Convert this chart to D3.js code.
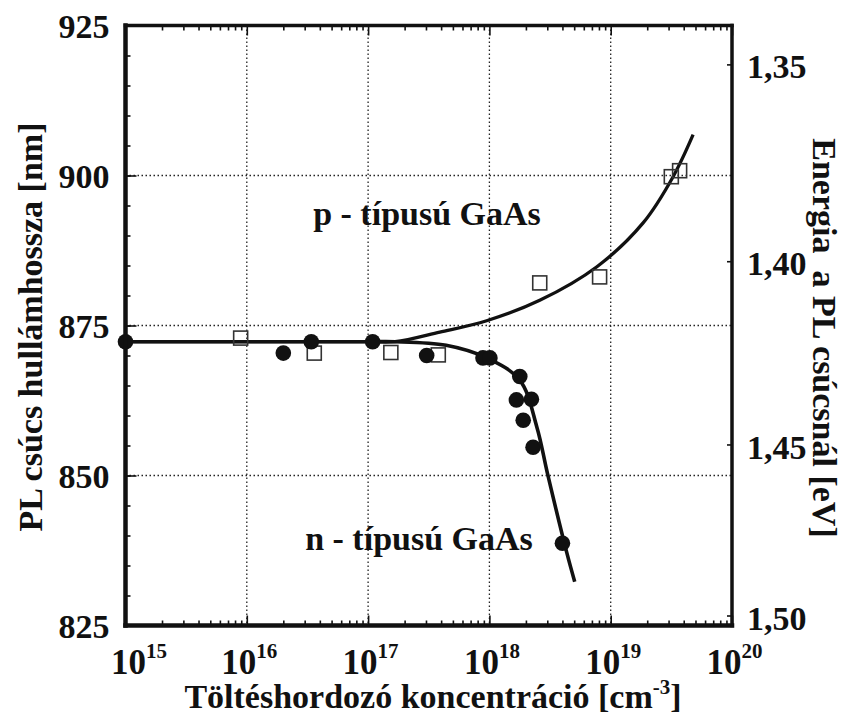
<!DOCTYPE html>
<html>
<head>
<meta charset="utf-8">
<script src="https://cdn.jsdelivr.net/npm/d3@7"></script>
<style>
body { margin: 0; background: #fff; }
text { font-family: "Liberation Serif", "Times New Roman", serif; font-weight: bold; fill: #111; }
</style>
</head>
<body>
<div id="chart"></div>
<script>
var width = 848,
    height = 716;

// n-type GaAs (filled circles): concentration [cm-3], PL peak [nm]
var nConc = [1e15, 2.0e16, 3.4e16, 1.09e17, 3.04e17, 8.85e17, 1.01e18, 1.78e18, 1.67e18, 2.22e18, 1.9e18, 2.29e18, 4.0e18];
var nWave = [872.3, 870.4, 872.3, 872.3, 870.0, 869.6, 869.6, 866.5, 862.6, 862.7, 859.2, 854.7, 838.7];

// p-type GaAs (open squares)
var pConc = [8.9e15, 3.6e16, 1.54e17, 3.79e17, 2.6e18, 8.1e18, 3.16e19, 3.7e19];
var pWave = [872.9, 870.4, 870.5, 870.1, 882.1, 883.1, 899.8, 900.8];

// fitted curves
var pFitConc = [1e15, 1e16, 1e17, 1.67e17, 3.9e17, 9.5e17, 2.6e18, 7.7e18, 1.85e19, 3.27e19, 4.78e19];
var pFitWave = [872.3, 872.3, 872.3, 872.3, 873.9, 875.8, 879.2, 884.8, 892.1, 899.8, 906.8];
var nFitConc = [1e15, 1e16, 1e17, 1.67e17, 4.4e17, 9.5e17, 1.78e18, 2.46e18, 3.03e18, 4.35e18, 5.05e18];
var nFitWave = [872.3, 872.3, 872.3, 872.3, 871.7, 869.6, 865.9, 858.1, 850.1, 837.1, 832.3];

// axes
var decades = [1e15, 1e16, 1e17, 1e18, 1e19, 1e20];
var decadeExp = ["15", "16", "17", "18", "19", "20"];
var gridConc = [1e16, 1e17, 1e18, 1e19];
var waveTicks = [825, 850, 875, 900, 925];
var gridWave = [850, 875, 900];
var energyTicks = [1.35, 1.40, 1.45, 1.50];

var svg = d3.select("#chart").append("svg")
    .attr("width", width)
    .attr("height", height);

var x = d3.scaleLog().domain([1e15, 1e20]).range([125.5, 732]);
var y = d3.scaleLinear().domain([825, 925]).range([625.5, 25.5]);
// E = 1240 / lambda
var yE = d3.scalePow().exponent(-1).domain([1240 / 925, 1240 / 825]).range([25.5, 625.5]);

var x0 = x.range()[0], x1 = x.range()[1],
    y0 = y.range()[0], y1 = y.range()[1];

// minor ticks
var minorConc = [];
decades.slice(0, 5).forEach(function(d) {
    for (var m = 2; m <= 9; m++) minorConc.push(m * d);
});
var minorWave = d3.range(825, 926, 5);

// GRID
var grid = svg.append("g").attr("class", "grid")
    .attr("stroke", "#222")
    .attr("stroke-width", 1.3)
    .attr("stroke-dasharray", "1.5,2.5");
grid.selectAll(".gx").data(gridConc).enter().append("line")
    .attr("x1", d => x(d)).attr("x2", d => x(d))
    .attr("y1", y1).attr("y2", y0);
grid.selectAll(".gy").data(gridWave).enter().append("line")
    .attr("x1", x0).attr("x2", x1)
    .attr("y1", d => y(d)).attr("y2", d => y(d));

function clean(g) {
    g.select(".domain").remove();
    g.selectAll(".tick line").attr("stroke", "#111").attr("stroke-width", 1.6);
}

// BOTTOM / TOP
svg.append("g").attr("transform", "translate(0," + y0 + ")")
    .call(d3.axisBottom(x).tickValues(minorConc).tickSize(-5).tickFormat(""))
    .call(clean);
svg.append("g").attr("transform", "translate(0," + y1 + ")")
    .call(d3.axisTop(x).tickValues(minorConc).tickSize(-5).tickFormat(""))
    .call(clean);
svg.append("g").attr("transform", "translate(0," + y1 + ")")
    .call(d3.axisTop(x).tickValues(decades).tickSize(-10).tickFormat(""))
    .call(clean);

var bx = svg.append("g").attr("class", "xaxis")
    .attr("transform", "translate(0," + y0 + ")")
    .call(d3.axisBottom(x).tickValues(decades).tickSize(-10).tickFormat(() => "10"))
    .call(clean);
bx.selectAll(".tick text")
    .attr("y", 48).attr("dy", 0)
    .attr("x", (d, i) => i === 0 ? 13 : 2)
    .style("font-size", "35px")
    .append("tspan")
    .attr("dy", -16)
    .style("font-size", "21px")
    .text((d, i) => decadeExp[i]);

// LEFT
svg.append("g").attr("transform", "translate(" + x0 + ",0)")
    .call(d3.axisLeft(y).tickValues(minorWave).tickSize(-5).tickFormat(""))
    .call(clean);
var ly = svg.append("g").attr("transform", "translate(" + x0 + ",0)")
    .call(d3.axisLeft(y).tickValues(waveTicks).tickSize(-11).tickFormat(d3.format("d")))
    .call(clean);
ly.selectAll(".tick text")
    .attr("x", -16).attr("dy", "0.34em")
    .style("font-size", "34px");

// RIGHT (energy)
var ry = svg.append("g").attr("transform", "translate(" + x1 + ",0)")
    .call(d3.axisRight(yE).tickValues(energyTicks).tickSize(-5)
        .tickFormat(d => d.toFixed(2).replace(".", ",")))
    .call(clean);
ry.selectAll(".tick text")
    .attr("x", 15).attr("dy", "0.4em")
    .style("font-size", "34px");

// FIT CURVES
var line = d3.line()
    .x(d => x(d[0]))
    .y(d => y(d[1]))
    .curve(d3.curveCatmullRom.alpha(0.5));

svg.append("path")
    .datum(d3.zip(pFitConc, pFitWave))
    .attr("d", line)
    .attr("fill", "none").attr("stroke", "#111").attr("stroke-width", 3.3);
svg.append("path")
    .datum(d3.zip(nFitConc, nFitWave))
    .attr("d", line)
    .attr("fill", "none").attr("stroke", "#111").attr("stroke-width", 3.6);

// POINTS
svg.append("g").selectAll("rect")
    .data(d3.zip(pConc, pWave))
    .enter().append("rect")
    .attr("x", d => x(d[0]) - 7)
    .attr("y", d => y(d[1]) - 7)
    .attr("width", 14).attr("height", 14)
    .attr("fill", "none")
    .attr("stroke", "#333")
    .attr("stroke-width", 1.6);

svg.append("g").selectAll("circle")
    .data(d3.zip(nConc, nWave))
    .enter().append("circle")
    .attr("cx", d => x(d[0]))
    .attr("cy", d => y(d[1]))
    .attr("r", 7.8)
    .attr("fill", "#111");

// FRAME
var frame = svg.append("g").attr("stroke", "#111").attr("stroke-linecap", "square");
frame.append("line").attr("x1", x0).attr("x2", x0).attr("y1", y1).attr("y2", y0).attr("stroke-width", 4.5);
frame.append("line").attr("x1", x0).attr("x2", x1).attr("y1", y0).attr("y2", y0).attr("stroke-width", 4.5);
frame.append("line").attr("x1", x0).attr("x2", x1).attr("y1", y1).attr("y2", y1).attr("stroke-width", 3.5);
frame.append("line").attr("x1", x1).attr("x2", x1).attr("y1", y1).attr("y2", y0).attr("stroke-width", 3.5);

// LABELS
svg.append("text")
    .attr("x", 427).attr("y", 225)
    .attr("text-anchor", "middle")
    .style("font-size", "34px")
    .text("p - típusú GaAs");
svg.append("text")
    .attr("x", 419).attr("y", 550)
    .attr("text-anchor", "middle")
    .style("font-size", "34px")
    .text("n - típusú GaAs");

var xt = svg.append("text")
    .attr("x", 433).attr("y", 708)
    .attr("text-anchor", "middle")
    .style("font-size", "34px")
    .text("Töltéshordozó koncentráció [cm");
xt.append("tspan").attr("dy", -14).style("font-size", "21px").text("-3");
xt.append("tspan").attr("dy", 14).text("]");

svg.append("text")
    .attr("transform", "translate(42,327) rotate(-90)")
    .attr("text-anchor", "middle")
    .style("font-size", "34px")
    .text("PL csúcs hullámhossza [nm]");

svg.append("text")
    .attr("transform", "translate(813,338) rotate(90)")
    .attr("text-anchor", "middle")
    .style("font-size", "34px")
    .style("white-space", "pre")
    .text("Energia  a PL csúcsnál [eV]");
</script>
</body>
</html>
